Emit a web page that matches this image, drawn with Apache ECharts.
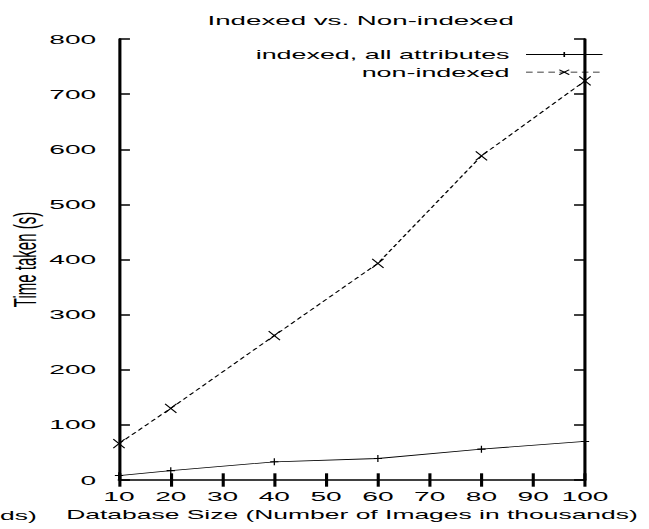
<!DOCTYPE html>
<html><head><meta charset="utf-8">
<script src="https://cdn.jsdelivr.net/npm/echarts@6/dist/echarts.min.js"></script>
<style>
html,body{margin:0;padding:0;background:#fff;overflow:hidden;width:649px;height:529px}
#wrap{width:649px;height:529px;overflow:hidden;position:relative;background:#fff}
#c{width:314px;height:529px;transform:scaleX(2.0669);transform-origin:0 0}
</style></head><body><div id="wrap"><div id="c"></div></div>
<script>
const categories = [10, 20, 40, 60, 80, 100];
const indexedValues = [8, 17, 33, 39, 56, 70];
const nonIndexedValues = [66, 130, 262, 393, 588, 724];
const seriesNames = ['indexed, all attributes', 'non-indexed'];
const titleText = 'Indexed vs. Non-indexed';
const xName = 'Database Size (Number of Images in thousands)';
const yName = 'Time taken (s)';

const FONT = '"Liberation Sans", Arial, Helvetica, sans-serif';
const txt = {fontFamily: FONT, fontSize: 13, color: '#000', fontWeight: 'normal'};
const axisLineStyle = {color: '#000', width: 1.5};
const PLUS = 'path://M0,5L10,5M5,0L5,10';
const CROSS = 'path://M0,0L10,10M10,0L0,10';

const chart = echarts.init(document.getElementById('c'), null, {renderer: 'svg', width: 314, height: 529});
const option = {
  animation: false,
  backgroundColor: '#fff',
  title: {text: titleText, left: 169.5, top: 8.5, textAlign: 'center', textStyle: Object.assign({}, txt, {fontSize: 13.4})},
  legend: {
    orient: 'vertical', right: 17.1, top: 43, align: 'right',
    itemWidth: 37, itemHeight: 6, itemGap: 4.7,
    textStyle: Object.assign({padding: [0, 3, 0, 0]}, txt),
    lineStyle: {width: 0.8},
    itemStyle: {borderWidth: 0.8},
    data: seriesNames
  },
  grid: {left: 57.57, right: 30.97, top: 39, bottom: 49, outerBoundsMode: 'none', containLabel: false},
  xAxis: [{
    type: 'value', min: 10, max: 100, interval: 10, position: 'bottom',
    axisLine: {show: true, lineStyle: axisLineStyle},
    axisTick: {show: true, inside: true, length: 6.7, lineStyle: axisLineStyle},
    axisLabel: Object.assign({margin: 9}, txt, {fontSize: 13.6}),
    splitLine: {show: false},
    name: xName, nameLocation: 'middle', nameGap: 28, nameMoveOverlap: false,
    nameTextStyle: Object.assign({}, txt, {fontSize: 12.8})
  }, {
    type: 'value', min: 10, max: 100, interval: 10, position: 'top',
    axisLine: {show: false},
    axisTick: {show: true, inside: true, length: 6.7, lineStyle: axisLineStyle},
    axisLabel: {show: false}, splitLine: {show: false}
  }],
  yAxis: [{
    type: 'value', min: 0, max: 800, interval: 100, position: 'left',
    axisLine: {show: true, lineStyle: axisLineStyle},
    axisTick: {show: true, inside: true, length: 5.3, lineStyle: axisLineStyle},
    axisLabel: Object.assign({margin: 11}, txt, {fontSize: 13.6}),
    splitLine: {show: false},
    name: yName, nameLocation: 'middle', nameGap: 38, nameMoveOverlap: false,
    nameTextStyle: Object.assign({}, txt, {fontSize: 15})
  }, {
    type: 'value', min: 0, max: 800, interval: 100, position: 'right',
    axisLine: {show: true, lineStyle: axisLineStyle},
    axisTick: {show: true, inside: true, length: 5.3, lineStyle: axisLineStyle},
    axisLabel: {show: false}, splitLine: {show: false}
  }],
  graphic: [{
    type: 'text', left: 0, top: 509,
    style: {text: 'ds)', font: '12.8px ' + FONT, fill: '#000'}
  }],
  series: [{
    name: seriesNames[0], type: 'line', clip: false,
    data: categories.map((c, i) => [c, indexedValues[i]]),
    symbol: PLUS, symbolSize: [4, 7], symbolKeepAspect: false,
    lineStyle: {color: '#000', width: 0.8, type: 'solid'},
    itemStyle: {color: '#000', borderColor: '#000', borderWidth: 0.8}
  }, {
    name: seriesNames[1], type: 'line', clip: false,
    data: categories.map((c, i) => [c, nonIndexedValues[i]]),
    symbol: CROSS, symbolSize: [5.5, 9], symbolKeepAspect: false,
    lineStyle: {color: '#000', width: 0.8, type: [3.2, 2.2]},
    itemStyle: {color: '#000', borderColor: '#000', borderWidth: 0.8}
  }]
};
chart.setOption(option);
</script>
</body></html>
